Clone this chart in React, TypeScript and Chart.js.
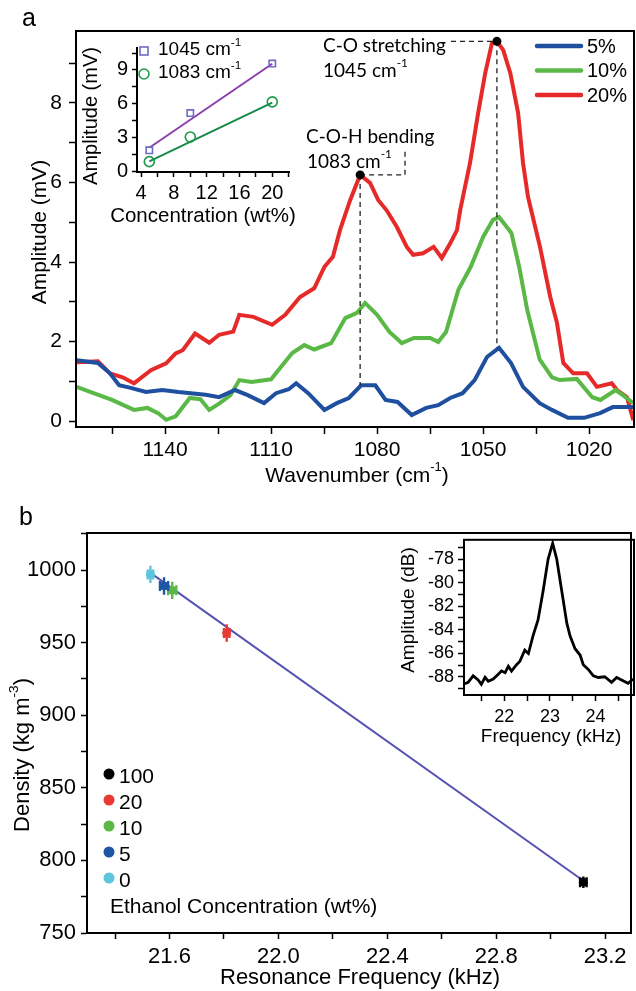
import React, { useEffect, useRef } from 'react';
import { Chart, registerables } from 'chart.js';
Chart.register(...registerables);

const FONT = '"Liberation Sans", Arial, sans-serif';
const ANNOT_FONT = 'Lato, "Open Sans", sans-serif';

// ---------- Panel a: spectra ----------
const seriesNames = ['5%', '10%', '20%'];
const seriesColors = ['#1f50a0', '#5ab946', '#e62a2a'];

const wn5 = [1165, 1159, 1155.6, 1153, 1150, 1145.4, 1140.8, 1136.2, 1132.7, 1128.5, 1124.7, 1120.2, 1116.6, 1112, 1108.6, 1105, 1102.9, 1099.5, 1094.9, 1091.4, 1088, 1084.5, 1080.5, 1077.6, 1074.2, 1070.2, 1066.1, 1062.7, 1059.3, 1055.8, 1052.4, 1048.9, 1045.5, 1042.1, 1038.7, 1034, 1030.5, 1026, 1021.4, 1016.9, 1013.3, 1007.5];
const amp5 = [1.53, 1.46, 1.2, 0.9, 0.84, 0.73, 0.78, 0.73, 0.7, 0.66, 0.6, 0.78, 0.65, 0.45, 0.7, 0.8, 0.95, 0.7, 0.28, 0.45, 0.58, 0.9, 0.9, 0.53, 0.48, 0.15, 0.33, 0.4, 0.58, 0.7, 1.03, 1.61, 1.84, 1.46, 0.86, 0.45, 0.28, 0.08, 0.08, 0.2, 0.35, 0.35];

const wn10 = [1165, 1161, 1155, 1148.8, 1145, 1142, 1139.7, 1137, 1133, 1130, 1127.5, 1124.5, 1121.5, 1119, 1115.5, 1110, 1107.5, 1104, 1100.6, 1097.8, 1093, 1089, 1085.7, 1083.4, 1080, 1076.5, 1073, 1069.6, 1065, 1062.7, 1060.5, 1057, 1053.5, 1050, 1047.2, 1045.5, 1042, 1039.8, 1037.5, 1034, 1030.5, 1028.3, 1023.5, 1019.1, 1016.8, 1012.5, 1010, 1007.5];
const amp10 = [0.86, 0.73, 0.53, 0.28, 0.33, 0.2, 0.03, 0.12, 0.58, 0.55, 0.28, 0.45, 0.65, 1.03, 0.98, 1.05, 1.33, 1.71, 1.91, 1.8, 1.96, 2.59, 2.72, 2.97, 2.67, 2.24, 1.96, 2.09, 2.09, 1.99, 2.24, 3.3, 3.88, 4.63, 5.06, 5.13, 4.73, 3.88, 2.79, 1.55, 1.1, 1.03, 1.06, 0.6, 0.53, 0.78, 0.62, 0.45];

const wn20 = [1165, 1159, 1155.6, 1152, 1148.8, 1144, 1139.7, 1137, 1135, 1131.5, 1127.5, 1124.7, 1120.7, 1119, 1115, 1109.7, 1106, 1101.8, 1097.8, 1094.9, 1092.5, 1090.5, 1087.6, 1084.8, 1082, 1079.7, 1077.3, 1074.4, 1071.6, 1069.8, 1067, 1064, 1061.7, 1059.3, 1057.4, 1056.5, 1053.7, 1051.4, 1049.4, 1047.5, 1046.1, 1044.3, 1042.3, 1040.1, 1038.7, 1037.3, 1033.9, 1031, 1029.1, 1027.3, 1024.5, 1020.6, 1017.8, 1013.6, 1012.1, 1009.3, 1007.5];
const amp20 = [1.48, 1.5, 1.2, 1.1, 0.95, 1.28, 1.45, 1.7, 1.78, 2.2, 1.97, 2.17, 2.25, 2.67, 2.62, 2.42, 2.67, 3.12, 3.34, 3.88, 4.13, 4.8, 5.56, 6.19, 5.99, 5.56, 5.3, 4.88, 4.38, 4.18, 4.22, 4.38, 4.1, 4.47, 4.8, 5.3, 6.49, 7.75, 8.75, 9.5, 9.55, 9.33, 8.75, 7.75, 6.49, 5.64, 4.38, 3.12, 2.47, 1.46, 1.2, 1.2, 0.86, 0.95, 0.78, 0.6, 0.02];

const peakWn = [1084.8, 1046.1];
const peakAmp = [6.19, 9.55];
const peakBase = [0.9, 1.84];
const peakNames = ['C-O-H bending', 'C-O stretching'];
const peakWnText = ['1083', '1045'];

const aXTicks = [1020, 1035, 1050, 1065, 1080, 1095, 1110, 1125, 1140, 1155];
const aXLabels = [1020, 1050, 1080, 1110, 1140];
const aYTicks = [0, 1, 2, 3, 4, 5, 6, 7, 8, 9];
const aYLabels = [0, 2, 4, 6, 8];

// ---------- Inset a ----------
const concX = [5, 10, 20];
const amp1045 = [1.87, 5.18, 9.57];
const amp1083 = [0.87, 3.06, 6.17];
const fitConc = [5, 20];
const fit1045 = [2.1, 9.55];
const fit1083 = [0.9, 6.1];
const insetALegend = ['1045', '1083'];
const iaXTicks = [4, 6, 8, 10, 12, 14, 16, 18, 20, 22];
const iaXLabels = [4, 8, 12, 16, 20];
const iaYTicks = [0, 1.5, 3, 4.5, 6, 7.5, 9, 10.5];
const iaYLabels = [0, 3, 6, 9];

// ---------- Panel b ----------
const concNames = ['100', '20', '10', '5', '0'];
const concColors = ['#000000', '#e83a35', '#5ab946', '#1f55a5', '#5bc6dc'];
const resFreq = [23.12, 21.81, 21.61, 21.58, 21.53];
const density = [785, 956.6, 986, 989, 997];
const freqErr = [0.012, 0.01, 0.015, 0.015, 0.01];
const densErr = [4, 6, 6, 6, 6];
const fitFreq = [21.53, 23.12];
const fitDensity = [998, 786];
const bXTicks = [21.4, 21.6, 21.8, 22.0, 22.2, 22.4, 22.6, 22.8, 23.0, 23.2];
const bXLabels = [21.6, 22.0, 22.4, 22.8, 23.2];
const bYTicks = [750, 775, 800, 825, 850, 875, 900, 925, 950, 975, 1000, 1025];
const bYLabels = [750, 800, 850, 900, 950, 1000];

// ---------- Inset b ----------
const specFreq = [21.14, 21.21, 21.32, 21.43, 21.5, 21.58, 21.65, 21.76, 21.87, 21.94, 22.02, 22.09, 22.16, 22.27, 22.34, 22.45, 22.53, 22.63, 22.74, 22.85, 22.96, 23.06, 23.15, 23.26, 23.37, 23.44, 23.55, 23.66, 23.73, 23.84, 23.95, 24.06, 24.2, 24.35, 24.46, 24.6, 24.71, 24.82];
const specAmp = [-88.6, -88.47, -87.92, -88.27, -88.65, -88.05, -88.38, -88.19, -87.78, -87.51, -87.65, -87.1, -87.51, -86.97, -86.7, -85.74, -86.02, -84.52, -83.17, -80.72, -78.0, -76.65, -78.0, -80.72, -83.44, -84.52, -85.61, -86.15, -86.97, -87.37, -87.92, -88.06, -88.0, -88.47, -88.06, -88.33, -88.55, -88.19];
const ibXTicks = [21.5, 22, 22.5, 23, 23.5, 24, 24.5];
const ibXLabels = [22, 23, 24];
const ibYTicks = [-89, -88, -87, -86, -85, -84, -83, -82, -81, -80, -79, -78, -77];
const ibYLabels = [-88, -86, -84, -82, -80, -78];

// ---------- helpers ----------
type Part = [string, boolean?];
type TextItem = { x: number; y: number; parts: Part[]; size: number; family?: string; align?: 'left' | 'center' | 'right'; rotate?: boolean; color?: string };

function drawRich(ctx: CanvasRenderingContext2D, it: TextItem) {
  const fam = it.family || FONT;
  ctx.save();
  ctx.translate(it.x, it.y);
  if (it.rotate) ctx.rotate(-Math.PI / 2);
  ctx.fillStyle = it.color || '#000';
  ctx.textBaseline = 'middle';
  ctx.textAlign = 'left';
  const supSize = it.size * 0.62;
  let w = 0;
  const widths = it.parts.map(([t, sup]) => {
    ctx.font = `${sup ? supSize : it.size}px ${fam}`;
    const m = ctx.measureText(t).width;
    w += m;
    return m;
  });
  let x = it.align === 'center' ? -w / 2 : it.align === 'right' ? -w : 0;
  it.parts.forEach(([t, sup], i) => {
    ctx.font = `${sup ? supSize : it.size}px ${fam}`;
    ctx.fillText(t, x, sup ? -it.size * 0.4 : 0);
    x += widths[i];
  });
  ctx.restore();
}

function textPlugin(id: string, items: TextItem[]) {
  return {
    id,
    afterDraw(chart: any) {
      const ctx = chart.ctx as CanvasRenderingContext2D;
      items.forEach((it) => drawRich(ctx, it));
    },
  };
}

function framePlugin(id: string, width: number) {
  return {
    id,
    afterDraw(chart: any) {
      const { left, right, top, bottom } = chart.chartArea;
      const ctx = chart.ctx as CanvasRenderingContext2D;
      ctx.save();
      ctx.strokeStyle = '#000';
      ctx.lineWidth = width;
      ctx.strokeRect(left, top, right - left, bottom - top);
      ctx.restore();
    },
  };
}

const near = (a: number[], v: number) => a.some((l) => Math.abs(l - v) < 1e-6);

function axis(o: { min: number; max: number; ticks: number[]; labels: number[]; fmt?: (v: number) => string; size: number; tickLen: number; pad: number; reverse?: boolean; fixed: number; horizontal: boolean; borderWidth?: number }) {
  return {
    type: 'linear',
    min: o.min,
    max: o.max,
    reverse: !!o.reverse,
    afterBuildTicks: (s: any) => {
      s.ticks = o.ticks.map((v) => ({ value: v }));
    },
    afterFit: (s: any) => {
      if (o.horizontal) s.height = o.fixed;
      else s.width = o.fixed;
    },
    ticks: {
      autoSkip: false,
      maxRotation: 0,
      minRotation: 0,
      padding: o.pad,
      color: '#000',
      font: { family: FONT, size: o.size },
      callback: (v: number) => (near(o.labels, v) ? (o.fmt ? o.fmt(v) : String(v)) : ''),
    },
    grid: { drawOnChartArea: false, drawTicks: true, tickLength: o.tickLen, tickColor: '#000', tickWidth: 1.5 },
    border: { display: true, color: '#000', width: o.borderWidth ?? 2 },
    title: { display: false },
  };
}

const baseOpts = {
  animation: false,
  responsive: false,
  maintainAspectRatio: false,
  events: [],
  devicePixelRatio: 1,
};

export default function App() {
  const refA = useRef<HTMLCanvasElement>(null);
  const refIA = useRef<HTMLCanvasElement>(null);
  const refB = useRef<HTMLCanvasElement>(null);
  const refIB = useRef<HTMLCanvasElement>(null);

  useEffect(() => {
    const charts: Chart[] = [];

    // ---------- Main a ----------
    const specSets = [
      [wn5, amp5],
      [wn10, amp10],
      [wn20, amp20],
    ];
    const annotA = {
      id: 'annotA',
      afterDatasetsDraw(chart: any) {
        const ctx = chart.ctx as CanvasRenderingContext2D;
        const xs = chart.scales.x;
        const ys = chart.scales.y;
        ctx.save();
        ctx.strokeStyle = '#222';
        ctx.lineWidth = 1.3;
        ctx.setLineDash([5, 4]);
        const pts = peakWn.map((w, i) => ({ x: xs.getPixelForValue(w), y: ys.getPixelForValue(peakAmp[i]), b: ys.getPixelForValue(peakBase[i]) }));
        ctx.beginPath();
        pts.forEach((p) => {
          ctx.moveTo(p.x, p.y);
          ctx.lineTo(p.x, p.b);
        });
        // C-O-H connector
        ctx.moveTo(pts[0].x, pts[0].y);
        ctx.lineTo(405, pts[0].y);
        ctx.lineTo(405, 150);
        // C-O connector
        ctx.moveTo(451, pts[1].y);
        ctx.lineTo(pts[1].x, pts[1].y);
        ctx.stroke();
        ctx.setLineDash([]);
        ctx.fillStyle = '#000';
        pts.forEach((p) => {
          ctx.beginPath();
          ctx.arc(p.x, p.y, 4.5, 0, Math.PI * 2);
          ctx.fill();
        });
        // legend
        seriesNames.forEach((n, i) => {
          const y = 46 + 24.5 * i;
          ctx.strokeStyle = seriesColors[i];
          ctx.lineWidth = 4.5;
          ctx.lineCap = 'round';
          ctx.beginPath();
          ctx.moveTo(537, y);
          ctx.lineTo(581, y);
          ctx.stroke();
          drawRich(ctx, { x: 587, y: y + 1, parts: [[n]], size: 20 });
        });
        ctx.restore();
      },
    };
    charts.push(
      new Chart(refA.current!, {
        type: 'line',
        data: {
          datasets: specSets.map(([w, a], i) => ({
            label: seriesNames[i],
            data: w.map((x, j) => ({ x, y: a[j] })),
            borderColor: seriesColors[i],
            borderWidth: 4,
            pointRadius: 0,
            tension: 0,
            fill: false,
          })),
        },
        options: {
          ...baseOpts,
          layout: { padding: { top: 31, right: 2, left: 0, bottom: 0 } },
          plugins: { legend: { display: false }, tooltip: { enabled: false } },
          scales: {
            x: axis({ min: 1007.3, max: 1165.2, reverse: true, ticks: aXTicks, labels: aXLabels, size: 21, tickLen: 7, pad: 4, fixed: 63, horizontal: true }),
            y: axis({ min: -0.15, max: 9.81, ticks: aYTicks, labels: aYLabels, size: 21, tickLen: 7, pad: 7, fixed: 76, horizontal: false }),
          },
        } as any,
        plugins: [
          annotA,
          framePlugin('frameA', 2),
          textPlugin('textA', [
            { x: 22, y: 19, parts: [['a']], size: 25 },
            { x: 40, y: 232, parts: [['Amplitude (mV)']], size: 21, align: 'center', rotate: true },
            { x: 357, y: 476, parts: [['Wavenumber (cm'], ['-1', true], [')']], size: 21, align: 'center' },
            { x: 323, y: 46, parts: [[peakNames[1]]], size: 19, family: ANNOT_FONT },
            { x: 323, y: 71, parts: [[peakWnText[1] + ' cm'], ['-1', true]], size: 19, family: ANNOT_FONT },
            { x: 306, y: 137, parts: [[peakNames[0]]], size: 19, family: ANNOT_FONT },
            { x: 307, y: 162, parts: [[peakWnText[0] + ' cm'], ['-1', true]], size: 19, family: ANNOT_FONT },
          ]),
        ] as any,
      })
    );

    // ---------- Inset a ----------
    const legendIA = {
      id: 'legendIA',
      afterDraw(chart: any) {
        const ctx = chart.ctx as CanvasRenderingContext2D;
        ctx.save();
        ctx.lineWidth = 1.6;
        ctx.strokeStyle = '#6f6cc4';
        ctx.strokeRect(68 - 4, 19 - 4, 8, 8);
        ctx.strokeStyle = '#1b9a4a';
        ctx.beginPath();
        ctx.arc(68, 42, 5, 0, Math.PI * 2);
        ctx.stroke();
        ctx.restore();
        drawRich(ctx, { x: 82, y: 18, parts: [[insetALegend[0] + ' cm'], ['-1', true]], size: 19 });
        drawRich(ctx, { x: 82, y: 41, parts: [[insetALegend[1] + ' cm'], ['-1', true]], size: 19 });
      },
    };
    charts.push(
      new Chart(refIA.current!, {
        type: 'scatter',
        data: {
          datasets: [
            { type: 'line', data: fitConc.map((x, j) => ({ x, y: fit1045[j] })), borderColor: '#8a3fae', borderWidth: 2, pointRadius: 0, order: 5 },
            { type: 'line', data: fitConc.map((x, j) => ({ x, y: fit1083[j] })), borderColor: '#17894a', borderWidth: 2, pointRadius: 0, order: 5 },
            { data: concX.map((x, j) => ({ x, y: amp1045[j] })), pointStyle: 'rect', pointRadius: 4.5, borderColor: '#6f6cc4', backgroundColor: 'rgba(0,0,0,0)', borderWidth: 1.6, order: 1 },
            { data: concX.map((x, j) => ({ x, y: amp1083[j] })), pointStyle: 'circle', pointRadius: 5, borderColor: '#1b9a4a', backgroundColor: 'rgba(0,0,0,0)', borderWidth: 1.6, order: 1 },
          ],
        },
        options: {
          ...baseOpts,
          layout: { padding: { top: 11, right: 11, left: 0, bottom: 0 } },
          plugins: { legend: { display: false }, tooltip: { enabled: false } },
          scales: {
            x: axis({ min: 3.5, max: 22.04, ticks: iaXTicks, labels: iaXLabels, size: 20, tickLen: 5, pad: 4, fixed: 60, horizontal: true }),
            y: axis({ min: -0.05, max: 10.95, ticks: iaYTicks, labels: iaYLabels, size: 20, tickLen: 5, pad: 4, fixed: 61, horizontal: false }),
          },
        } as any,
        plugins: [
          legendIA,
          textPlugin('textIA', [
            { x: 15, y: 84, parts: [['Amplitude (mV)']], size: 20, align: 'center', rotate: true },
            { x: 127, y: 184, parts: [['Concentration (wt%)']], size: 20.5, align: 'center' },
          ]),
        ] as any,
      })
    );

    // ---------- Main b ----------
    const errB = {
      id: 'errB',
      afterDatasetsDraw(chart: any) {
        const ctx = chart.ctx as CanvasRenderingContext2D;
        const xs = chart.scales.x;
        const ys = chart.scales.y;
        ctx.save();
        ctx.lineWidth = 2.4;
        resFreq.forEach((f, i) => {
          const px = xs.getPixelForValue(f);
          const py = ys.getPixelForValue(density[i]);
          const y1 = ys.getPixelForValue(density[i] - densErr[i]);
          const y2 = ys.getPixelForValue(density[i] + densErr[i]);
          const x1 = xs.getPixelForValue(f - freqErr[i]);
          const x2 = xs.getPixelForValue(f + freqErr[i]);
          ctx.strokeStyle = concColors[i];
          ctx.beginPath();
          ctx.moveTo(px, y1);
          ctx.lineTo(px, y2);
          ctx.moveTo(x1, py);
          ctx.lineTo(x2, py);
          ctx.moveTo(x1, py - 5);
          ctx.lineTo(x1, py + 5);
          ctx.moveTo(x2, py - 5);
          ctx.lineTo(x2, py + 5);
          ctx.stroke();
        });
        // legend
        concNames.forEach((n, i) => {
          const y = 284 + 26 * i;
          ctx.fillStyle = concColors[i];
          ctx.beginPath();
          ctx.arc(109, y, 5.5, 0, Math.PI * 2);
          ctx.fill();
          drawRich(ctx, { x: 119, y: y + 3, parts: [[n]], size: 21 });
        });
        ctx.restore();
      },
    };
    charts.push(
      new Chart(refB.current!, {
        type: 'scatter',
        data: {
          datasets: [
            { data: resFreq.map((x, j) => ({ x, y: density[j] })), pointRadius: 4, pointBackgroundColor: concColors, pointBorderColor: concColors, order: 1 },
            { type: 'line', data: fitFreq.map((x, j) => ({ x, y: fitDensity[j] })), borderColor: '#5552b2', borderWidth: 2, pointRadius: 0, order: 10 },
          ],
        },
        options: {
          ...baseOpts,
          layout: { padding: { top: 43, right: 2, left: 0, bottom: 0 } },
          plugins: { legend: { display: false }, tooltip: { enabled: false } },
          scales: {
            x: axis({ min: 21.297, max: 23.295, ticks: bXTicks, labels: bXLabels, fmt: (v) => v.toFixed(1), size: 22, tickLen: 6, pad: 5, fixed: 58, horizontal: true }),
            y: axis({ min: 750, max: 1025.5, ticks: bYTicks, labels: bYLabels, size: 22, tickLen: 6, pad: 5, fixed: 87, horizontal: false }),
          },
        } as any,
        plugins: [
          errB,
          framePlugin('frameB', 2),
          textPlugin('textB', [
            { x: 19, y: 28, parts: [['b']], size: 25 },
            { x: 23, y: 265, parts: [['Density (kg m'], ['-3', true], [')']], size: 22, align: 'center', rotate: true },
            { x: 360, y: 488, parts: [['Resonance Frequency (kHz)']], size: 22, align: 'center' },
            { x: 110, y: 417, parts: [['Ethanol Concentration (wt%)']], size: 21 },
          ]),
        ] as any,
      })
    );

    // ---------- Inset b ----------
    charts.push(
      new Chart(refIB.current!, {
        type: 'line',
        data: {
          datasets: [
            { data: specFreq.map((x, j) => ({ x, y: specAmp[j] })), borderColor: '#000', borderWidth: 2.8, pointRadius: 0, tension: 0 },
          ],
        },
        options: {
          ...baseOpts,
          layout: { padding: { top: 8, right: 2, left: 0, bottom: 0 } },
          plugins: { legend: { display: false }, tooltip: { enabled: false } },
          scales: {
            x: axis({ min: 21.12, max: 24.84, ticks: ibXTicks, labels: ibXLabels, size: 18, tickLen: 6, pad: 5, fixed: 55, horizontal: true }),
            y: axis({ min: -89.55, max: -76.35, ticks: ibYTicks, labels: ibYLabels, size: 18, tickLen: 6, pad: 4, fixed: 69, horizontal: false }),
          },
        } as any,
        plugins: [
          framePlugin('frameIB', 2),
          textPlugin('textIB', [
            { x: 14, y: 85, parts: [['Amplitude (dB)']], size: 19, align: 'center', rotate: true },
            { x: 156, y: 212, parts: [['Frequency (kHz)']], size: 19, align: 'center' },
          ]),
        ] as any,
      })
    );

    return () => charts.forEach((c) => c.destroy());
  }, []);

  const abs = (l: number, t: number, w: number, h: number): React.CSSProperties => ({ position: 'absolute', left: l, top: t, width: w, height: h });

  return (
    <div style={{ position: 'absolute', left: 0, top: 0, width: 636, height: 991, background: '#fff', overflow: 'hidden' }}>
      <canvas ref={refA} width={636} height={490} style={abs(0, 0, 636, 490)} />
      <canvas ref={refIA} width={224} height={200} style={abs(76, 32, 224, 200)} />
      <canvas ref={refB} width={636} height={501} style={abs(0, 490, 636, 501)} />
      <canvas ref={refIB} width={241} height={225} style={abs(395, 525, 241, 225)} />
    </div>
  );
}
